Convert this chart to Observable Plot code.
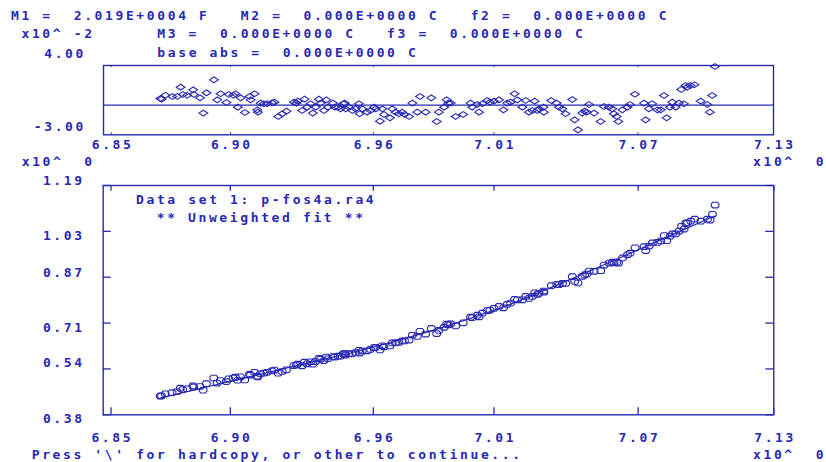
<!DOCTYPE html>
<html><head><meta charset="utf-8">
<script src="https://cdn.jsdelivr.net/npm/d3@7"></script>
<script src="https://cdn.jsdelivr.net/npm/@observablehq/plot@0.6"></script>
<style>
html,body{margin:0;padding:0;background:#fff;}
#root{position:relative;width:826px;height:462px;overflow:hidden;background:#fff;}
.t{position:absolute;font-family:"DejaVu Sans Mono",monospace;font-weight:bold;font-size:13px;line-height:18px;letter-spacing:2.62px;color:#2828b4;white-space:pre;}
.p{position:absolute;left:0;}
#root svg text{font-family:"DejaVu Sans Mono",monospace;font-weight:bold;font-size:13px;letter-spacing:2.62px;fill:#2828b4;}
</style></head><body><div id="root"></div>
<script>
const C = "#2828b4";

// axis ticks (x10^0) and labels
const xTickValues = [6.85, 6.9004, 6.9608, 7.0118, 7.0727, 7.13];
const xTickLabels = ["6.85", "6.90", "6.96", "7.01", "7.07", "7.13"];
const xDomain = [6.8467, 7.13];
const residTickValues = [4, -3];
const residTickLabels = ["4.00", "-3.00"];
const residDomain = [-3, 4];
const yTickValues = [0.38, 0.542, 0.704, 0.866, 1.028, 1.19];
const yTickLabels = ["0.38", "0.54", "0.71", "0.87", "1.03", "1.19"];

// data set 1: p-fos4a.ra4
const xData = [
6.8708,6.8713,6.8729,6.8758,6.8779,6.8793,6.8803,6.8821,6.8846,6.8849,
6.8875,6.8889,6.8903,6.8934,6.8948,6.8962,6.8987,6.8997,6.9016,6.9025,
6.9035,6.9047,6.9065,6.9085,6.9089,6.9106,6.9117,6.9120,6.9131,6.9145,
6.9159,6.9180,6.9190,6.9206,6.9223,6.9241,6.9272,6.9283,6.9289,6.9307,
6.9317,6.9328,6.9343,6.9352,6.9364,6.9378,6.9385,6.9399,6.9409,6.9416,
6.9437,6.9445,6.9459,6.9469,6.9481,
6.9487,6.9491,6.9505,6.9519,6.9533,6.9547,6.9550,6.9561,6.9582,6.9596,
6.9611,6.9618,6.9636,6.9646,6.9653,6.9678,6.9688,6.9702,6.9716,6.9730,
6.9740,6.9759,6.9773,6.9794,6.9805,6.9829,6.9853,6.9876,6.9885,6.9907,
6.9918,6.9925,6.9935,6.9956,6.9988,7.0019,7.0026,7.0048,7.0055,7.0069,
7.0090,7.0101,7.0118,7.0139,7.0158,7.0174,7.0188,7.0205,7.0217,7.0238,
7.0252,7.0266,
7.0280,7.0290,7.0301,7.0308,7.0327,7.0329,7.0360,7.0383,7.0393,7.0407,
7.0421,7.0449,7.0459,7.0473,7.0491,7.0501,7.0510,7.0520,7.0541,7.0569,
7.0583,7.0604,7.0618,7.0625,7.0637,7.0644,7.0661,7.0682,7.0693,7.0714,
7.0752,7.0759,7.0773,7.0787,7.0809,7.0823,7.0837,7.0848,7.0862,7.0872,
7.0886,7.0900,7.0910,7.0921,7.0928,7.0935,7.0949,7.0966,7.0992,7.1020,
7.1031,7.1041,7.1052];

// residuals, x10^-2
const residuals = [
0.67,0.60,1.00,0.87,0.87,1.81,1.07,1.00,1.54,1.07,
0.73,-0.81,1.24,2.55,0.53,1.14,0.26,1.07,1.00,1.14,
-0.21,0.73,-0.75,0.87,0.53,1.14,-0.48,-0.71,0.20,0.13,
0.13,0.23,0.30,-1.15,-0.88,-0.61,0.30,0.20,0.40,-0.55,
0.60,-0.21,0.13,-0.81,-0.21,0.60,0.20,-0.55,0.53,-0.21,
0.20,-0.21,-0.21,-0.38,0.13,
0.20,-0.38,-0.21,-0.55,-0.38,0.13,-0.88,-0.38,-0.71,-0.55,
-0.21,-0.38,-1.62,-0.38,-0.95,-1.29,-0.38,-0.71,-0.88,-0.71,
-0.95,-1.15,0.20,-0.71,0.87,-0.71,0.73,-1.66,-0.71,-0.21,
0.53,0.20,0.20,-1.15,-0.95,0.20,-0.21,0.06,-0.71,0.13,
0.47,0.30,0.40,0.53,-0.48,0.20,0.30,1.14,0.53,-0.21,
0.47,-0.71,
-0.55,0.40,-0.55,-0.38,-0.21,-0.71,0.47,0.20,-0.21,-0.38,
-0.88,0.57,-1.49,-2.50,-0.81,-0.61,-0.71,0.06,-0.81,-1.66,
-0.14,-0.21,-0.38,-0.88,-1.15,-1.66,-0.48,-0.21,0.06,1.10,
0.20,-1.49,-0.38,0.13,-0.48,-0.48,0.97,-1.29,-0.21,0.30,
-0.21,0.20,1.57,0.13,1.98,1.81,1.98,2.05,0.40,0.06,
-0.71,0.97,3.90];

// observed values (main panel)
const observed = [
0.446,0.447,0.454,0.458,0.462,0.474,0.469,0.472,0.482,0.478,
0.480,0.467,0.490,0.510,0.492,0.501,0.497,0.507,0.510,0.513,
0.502,0.514,0.503,0.523,0.520,0.530,0.516,0.514,0.525,0.527,
0.530,0.535,0.538,0.527,0.533,0.539,0.554,0.556,0.559,0.553,
0.566,0.560,0.567,0.559,0.568,0.579,0.576,0.571,0.584,0.578,
0.586,0.584,0.587,0.587,0.595,
0.596,0.591,0.596,0.595,0.600,0.608,0.598,0.605,0.606,0.611,
0.617,0.618,0.609,0.624,0.620,0.623,0.634,0.634,0.636,0.641,
0.641,0.644,0.661,0.657,0.675,0.665,0.685,0.667,0.678,0.689,
0.700,0.698,0.701,0.694,0.705,0.725,0.723,0.732,0.726,0.739,
0.748,0.750,0.756,0.763,0.758,0.770,0.775,0.788,0.786,0.786,
0.798,0.791,
0.798,0.811,0.805,0.809,0.817,0.813,0.836,0.841,0.840,0.844,
0.844,0.868,0.851,0.846,0.869,0.874,0.877,0.888,0.887,0.889,
0.909,0.916,0.919,0.917,0.919,0.916,0.934,0.945,0.951,0.970,
0.974,0.960,0.976,0.987,0.989,0.994,1.013,0.995,1.011,1.019,
1.019,1.029,1.046,1.036,1.057,1.058,1.064,1.071,1.064,1.071,
1.068,1.088,1.121];

// fitted curve
const fitX = [6.871, 6.90, 6.93, 6.96, 6.99, 7.02, 7.05, 7.08, 7.105];
const fitY = [0.440, 0.497, 0.557, 0.617, 0.689, 0.775, 0.880, 0.990, 1.082];

// ---- styling (pixels) ----
const residLabelDy = [-11.9, -8.4];
const yLabelDy = [4.3, -6.4, 4.6, -4.4, 4.6, -4.4];

const pts = xData.map((x, i) => ({x, r: residuals[i], y: observed[i]}));
const fit = fitX.map((x, i) => ({x, y: fitY[i]}));
const xLabel = new Map(xTickValues.map((v, i) => [v, xTickLabels[i]]));

const diamond = {draw(ctx) { ctx.moveTo(-4.4, 0); ctx.lineTo(0, -2.9); ctx.lineTo(4.4, 0); ctx.lineTo(0, 2.9); ctx.closePath(); }};
const ring = {draw(ctx) {
  ctx.moveTo(-3.8, -1.2); ctx.lineTo(-2.3, -2.8); ctx.lineTo(2.3, -2.8); ctx.lineTo(3.8, -1.2);
  ctx.lineTo(3.8, 1.2); ctx.lineTo(2.3, 2.8); ctx.lineTo(-2.3, 2.8); ctx.lineTo(-3.8, 1.2); ctx.closePath(); }};

const style = {background: "transparent", color: C, fontFamily: "DejaVu Sans Mono", fontSize: "13px", fontWeight: "bold", letterSpacing: "2.62px", overflow: "visible"};

// residual panel: frame x 103..773, y 65..134.3
const topH = 69.3;
const topPlot = Plot.plot({
  width: 826, height: 115,
  marginLeft: 103, marginRight: 53, marginTop: 25, marginBottom: 115 - 25 - topH,
  x: {domain: xDomain, label: null},
  y: {domain: residDomain, label: null},
  style,
  marks: [
    Plot.ruleX(xTickValues, {stroke: C, strokeWidth: 1, insetBottom: topH - 2}),
    Plot.ruleX(xTickValues, {stroke: C, strokeWidth: 1, insetTop: topH - 2}),
    Plot.ruleY([0], {stroke: C, strokeWidth: 1.4}),
    Plot.dot(pts, {x: "x", y: "r", symbol: diamond, stroke: C, strokeWidth: 1.1, fill: "none"}),
    Plot.frame({stroke: C, strokeWidth: 1.4}),
    Plot.axisX(xTickValues, {tickSize: 0, tickPadding: 4.5, dx: 1.3, label: null, tickFormat: d => xLabel.get(d)}),
    ...residTickValues.map((v, i) => Plot.axisY([v], {tickSize: 0, tickPadding: 17.5, dy: residLabelDy[i], label: null, tickFormat: () => residTickLabels[i]}))
  ]
});

// main panel: frame x 102.7..773.3, y 185..414.3
const mainH = 229.3, mainW = 670.6;
const mainPlot = Plot.plot({
  width: 826, height: 280,
  marginLeft: 102.7, marginRight: 52.7, marginTop: 20, marginBottom: 280 - 20 - mainH,
  x: {domain: xDomain, label: null},
  y: {domain: [0.38, 1.19], label: null},
  style,
  marks: [
    Plot.ruleX(xTickValues, {stroke: C, strokeWidth: 1.3, insetBottom: mainH - 5.7}),
    Plot.ruleX(xTickValues, {stroke: C, strokeWidth: 1.3, insetTop: mainH - 7}),
    Plot.ruleY(yTickValues, {stroke: C, strokeWidth: 1.3, insetRight: mainW - 8}),
    Plot.ruleY(yTickValues, {stroke: C, strokeWidth: 1.3, insetLeft: mainW - 8}),
    Plot.line(fit, {x: "x", y: "y", stroke: C, strokeWidth: 1.2, curve: "catmull-rom"}),
    Plot.dot(pts, {x: "x", y: "y", symbol: ring, stroke: C, strokeWidth: 1.1, fill: "none"}),
    Plot.frame({stroke: C, strokeWidth: 1.4}),
    Plot.axisX(xTickValues, {tickSize: 0, tickPadding: 18, dx: 1.3, label: null, tickFormat: d => xLabel.get(d)}),
    ...yTickValues.map((v, i) => Plot.axisY([v], {tickSize: 0, tickPadding: 18.5, dy: yLabelDy[i], label: null, tickFormat: () => yTickLabels[i]}))
  ]
});

const root = document.getElementById("root");
topPlot.classList.add("p"); topPlot.style.top = "40px";
mainPlot.classList.add("p"); mainPlot.style.top = "165px";
root.appendChild(topPlot);
root.appendChild(mainPlot);

const texts = [
  ["M1 =  2.019E+0004 F   M2 =  0.000E+0000 C   f2 =  0.000E+0000 C", 11, 7.25],
  [" x10^ -2      M3 =  0.000E+0000 C   f3 =  0.000E+0000 C", 11, 25.25],
  ["base abs =  0.000E+0000 C", 157.3, 43.75],
  ["x10^  0", 21.7, 153.25],
  ["x10^  0", 753, 153.25],
  ["Data set 1: p-fos4a.ra4", 136, 190.5],
  ["** Unweighted fit **", 156.7, 208.5],
  ["Press '\\' for hardcopy, or other to continue...", 31.7, 446.25],
  ["x10^  0", 753, 446.25]
];
for (const [s, x, y] of texts) {
  const d = document.createElement("div");
  d.className = "t";
  d.textContent = s;
  d.style.left = x + "px";
  d.style.top = y + "px";
  root.appendChild(d);
}
</script></body></html>
